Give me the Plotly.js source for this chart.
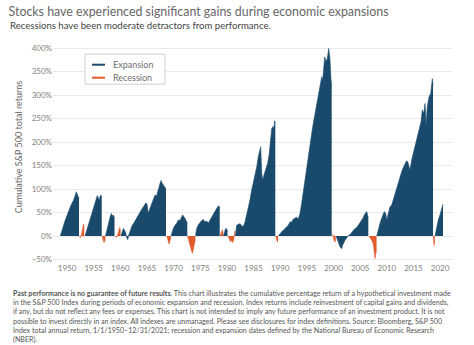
<!DOCTYPE html>
<html>
<head>
<meta charset="utf-8">
<script src="https://cdn.plot.ly/plotly-3.0.1.min.js"></script>
<style>
html,body{margin:0;padding:0;background:#fff;}
#chart{width:474px;height:345px;}
</style>
</head>
<body>
<div id="chart"></div>
<script>
// Expansion periods: year (fractional) and cumulative total return (%); null separates periods
const expansionYears = [
  1948.74,1949.06,1949.34,1949.68,1950.00,1950.32,1950.62,1950.94,1951.22,1951.56,1951.74,1951.88,1952.06,1952.25,null,
  1953.38,1953.66,1953.94,1954.32,1954.69,1955.07,1955.35,1955.57,1955.68,1955.91,1956.06,1956.19,1956.38,1956.51,null,
  1957.22,1957.50,1957.79,1958.07,1958.31,1958.50,1958.69,1958.91,null,
  1960.13,1960.32,1960.56,1960.79,1960.98,1961.16,1961.39,1961.58,1961.82,1962.20,1962.57,1962.95,1963.32,1963.70,1964.07,1964.45,1964.77,1965.01,1965.25,1965.44,1965.89,1966.19,1966.51,1966.79,1967.02,1967.26,1967.45,1967.64,1967.82,1968.07,1968.39,1968.57,null,
  1969.51,1969.70,1969.94,1970.26,1970.58,1970.88,1971.20,1971.39,1971.71,1971.95,1972.14,1972.46,1972.57,null,
  1974.11,1974.33,1974.63,1974.95,1975.27,1975.57,1975.89,1976.21,1976.51,1976.83,1977.15,1977.45,1977.77,1978.05,1978.27,1978.52,1978.65,null,
  1979.32,1979.55,1979.77,1979.96,1980.11,null,
  1981.57,1981.84,1982.14,1982.46,1982.78,1983.08,1983.40,1983.71,1984.02,1984.33,1984.65,1984.95,1985.27,1985.59,1985.89,1986.21,1986.34,1986.53,1986.72,1986.96,1987.28,1987.65,1987.95,1988.22,1988.41,1988.65,1988.78,1988.97,1989.08,null,
  1989.64,1989.96,1990.28,1990.58,1990.90,1991.22,1991.52,1991.84,1992.16,1992.46,1992.78,1993.10,1993.40,1993.71,1994.03,1994.33,1994.65,1994.97,1995.27,1995.59,1995.91,1996.21,1996.53,1996.85,1997.15,1997.47,1997.79,1997.97,1998.09,1998.35,1998.59,1998.84,1999.10,1999.34,1999.53,1999.66,null,
  2000.47,2000.66,2000.90,2001.22,2001.54,2001.69,2001.84,2002.16,2002.48,2002.78,2003.10,2003.42,2003.72,2004.03,2004.35,2004.65,2004.97,2005.29,2005.53,2005.78,2006.00,2006.23,2006.42,2006.53,null,
  2008.11,2008.41,2008.72,2009.04,2009.28,2009.53,2009.79,2009.98,2010.28,2010.60,2010.92,2011.22,2011.54,2011.86,2012.16,2012.48,2012.80,2013.10,2013.41,2013.70,2013.92,2014.17,2014.35,2014.67,2014.97,2015.29,2015.61,2015.91,2016.17,2016.42,2016.66,2016.92,2017.17,2017.35,2017.60,2017.92,2018.24,2018.39,2018.54,2018.67,null,
  2019.04,2019.36,2019.66,2019.98,2020.30,2020.54
];
const expansionReturns = [
  0,10,22,34,45,55,62,70,76,87,94,90,82,80,null,
  0,10,22,34,48,62,72,80,86,80,76,84,87,82,null,
  0,15,30,40,48,42,45,38,null,
  0,8,16,12,8,-2,-8,2,12,22,28,36,43,50,58,64,70,68,48,55,70,78,87,85,98,104,112,118,113,108,101,100,null,
  0,10,16,23,27,34,33,38,45,40,38,30,28,null,
  0,16,24,30,33,35,30,32,27,34,41,45,52,58,62,64,62,null,
  0,10,16,15,10,null,
  0,23,25,26,22,20,30,45,55,77,98,112,126,147,169,186,190,133,119,130,140,155,176,204,229,233,227,245,240,null,
  0,6,9,12,16,20,23,30,30,36,38,40,36,48,70,95,119,140,169,197,218,240,261,275,303,318,339,332,353,381,371,378,399,375,332,320,null,
  0,-8,-13,-23,-27,-20,-16,-9,-4,1,3,8,12,16,18,23,28,34,38,45,50,52,43,40,null,
  0,16,27,38,45,52,48,34,48,62,66,78,91,104,116,126,137,146,155,160,158,150,140,162,176,190,204,218,230,243,268,261,282,236,275,296,303,315,335,320,null,
  0,20,34,45,59,68
];
// Recession periods
const recessionYears = [
  1952.31,1952.50,1952.72,1952.91,1953.10,1953.23,null,
  1956.57,1956.75,1956.94,1957.09,1957.19,null,
  1959.10,1959.29,1959.57,1959.89,1960.04,null,
  1968.67,1968.86,1969.14,1969.32,1969.47,null,
  1972.61,1972.89,1973.17,1973.36,1973.51,1973.70,1973.88,1974.07,null,
  1978.71,1978.89,1979.14,1979.27,null,
  1980.21,1980.45,1980.68,1980.90,1981.09,1981.28,1981.43,1981.52,null,
  1989.16,1989.34,1989.46,1989.59,null,
  1999.77,1999.91,2000.09,2000.28,2000.41,null,
  2006.66,2006.85,2007.09,2007.32,2007.50,2007.65,2007.79,2007.92,2008.07,null,
  2018.72,2018.86,2018.99
];
const recessionReturns = [
  0,-3,4,12,25,20,null,
  0,-5,-14,-10,-4,null,
  0,-3,5,18,10,null,
  0,-5,-17,-12,-5,null,
  0,-10,-20,-28,-37,-28,-20,-8,null,
  0,5,13,6,null,
  0,-8,-12,-9,-14,-8,5,12,null,
  0,-8,-13,-6,null,
  0,3,-8,-13,-5,null,
  0,-3,-8,-12,-20,-30,-48,-38,-30,null,
  0,-20,-10
];
const yearTicks = [1950,1955,1960,1965,1970,1975,1980,1985,1990,1995,2000,2005,2010,2015,2020];
const returnTicks = [-50,0,50,100,150,200,250,300,350,400];
const returnTickLabels = ['−50%','0%','50%','100%','150%','200%','250%','300%','350%','400%'];
const seriesNames = ['Expansion','Recession'];

const BLUE = '#1a4a6b', ORANGE = '#e05a2b';

function segments(xs, ys) {
  const out = []; let cx = [], cy = [];
  for (let i = 0; i < xs.length; i++) {
    if (xs[i] === null) { if (cx.length) out.push([cx, cy]); cx = []; cy = []; }
    else { cx.push(xs[i]); cy.push(ys[i]); }
  }
  if (cx.length) out.push([cx, cy]);
  return out;
}

const traces = [];
function addArea(xs, ys, color, name) {
  segments(xs, ys).forEach(s => {
    traces.push({
      type: 'scatter', mode: 'lines', x: s[0], y: s[1], name: name,
      fill: 'tozeroy', fillcolor: color,
      line: {color: color, width: 0.6},
      showlegend: false, hoverinfo: 'skip'
    });
  });
}
addArea(expansionYears, expansionReturns, BLUE, seriesNames[0]);
addArea(recessionYears, recessionReturns, ORANGE, seriesNames[1]);

const FONT = 'Lato, "Open Sans", sans-serif';
const foot = [
  '<b>Past performance is no guarantee of future results</b>. This chart illustrates the cumulative percentage return of a hypothetical investment made',
  'in the S&amp;P 500 Index during periods of economic expansion and recession. Index returns include reinvestment of capital gains and dividends,',
  'if any, but do not reflect any fees or expenses. This chart is not intended to imply any future performance of an investment product. It is not',
  'possible to invest directly in an index. All indexes are unmanaged. Please see disclosures for index definitions. Source: Bloomberg, S&amp;P 500',
  'Index total annual return, 1/1/1950–12/31/2021; recession and expansion dates defined by the National Bureau of Economic Research',
  '(NBER).'
].join('<br>');

// pixel -> paper helpers for layout placement
const PL = 53, PW = 399, PB = 261.8, PH = 216;
const px = v => (v - PL) / PW;
const py = v => (PB - v) / PH;

const layout = {
  width: 474, height: 345,
  margin: {l: 53, r: 22, t: 46, b: 83},
  paper_bgcolor: '#fff', plot_bgcolor: '#fff',
  font: {family: FONT, color: '#666'},
  showlegend: false,
  title: {
    text: 'Stocks have experienced significant gains during economic expansions',
    font: {family: FONT, size: 12.4, color: '#666'},
    xref: 'container', yref: 'container', x: 0.018, xanchor: 'left', y: 0.967, yanchor: 'middle'
  },
  xaxis: {
    range: [1947.37, 2022.23], tickvals: yearTicks, ticktext: yearTicks.map(String),
    showgrid: false, zeroline: false, showline: false, ticks: '',
    tickfont: {size: 8, color: '#808080'}
  },
  yaxis: {
    range: [-55.3, 404.3], tickvals: returnTicks, ticktext: returnTickLabels,
    showgrid: true, gridcolor: '#e9e9e9', gridwidth: 1, zeroline: false, showline: false, ticks: '',
    tickfont: {size: 8, color: '#808080'}
  },
  shapes: [
    {type: 'rect', xref: 'paper', yref: 'paper', x0: px(85), x1: px(165), y0: py(84), y1: py(54),
     line: {color: '#cfcfcf', width: 1}, fillcolor: '#fff', layer: 'above'},
    {type: 'line', xref: 'paper', yref: 'paper', x0: px(92), x1: px(105), y0: py(64.5), y1: py(64.5),
     line: {color: BLUE, width: 2}, layer: 'above'},
    {type: 'line', xref: 'paper', yref: 'paper', x0: px(92), x1: px(105), y0: py(77.5), y1: py(77.5),
     line: {color: ORANGE, width: 2}, layer: 'above'}
  ],
  annotations: [
    {text: seriesNames[0], xref: 'paper', yref: 'paper', x: px(111), y: py(64.5), xanchor: 'left', yanchor: 'middle',
     showarrow: false, font: {family: FONT, size: 9, color: '#707070'}},
    {text: seriesNames[1], xref: 'paper', yref: 'paper', x: px(111), y: py(77.5), xanchor: 'left', yanchor: 'middle',
     showarrow: false, font: {family: FONT, size: 9, color: '#707070'}},
    {text: 'Recessions have been moderate detractors from performance.', xref: 'paper', yref: 'paper',
     x: px(8), y: py(25), xanchor: 'left', yanchor: 'middle', showarrow: false,
     font: {family: FONT, size: 9.6, color: '#444'}},
    {text: 'Cumulative S&amp;P 500 total returns', xref: 'paper', yref: 'paper', textangle: -90,
     x: px(18), y: py(147), xanchor: 'center', yanchor: 'middle', showarrow: false,
     font: {family: FONT, size: 9, color: '#666'}},
    {text: foot, xref: 'paper', yref: 'paper', align: 'left',
     x: px(11), y: py(287), xanchor: 'left', yanchor: 'top', showarrow: false,
     font: {family: FONT, size: 7.1, color: '#555'}}
  ]
};

Plotly.newPlot('chart', traces, layout, {displayModeBar: false, responsive: false, staticPlot: true});
</script>
</body>
</html>
